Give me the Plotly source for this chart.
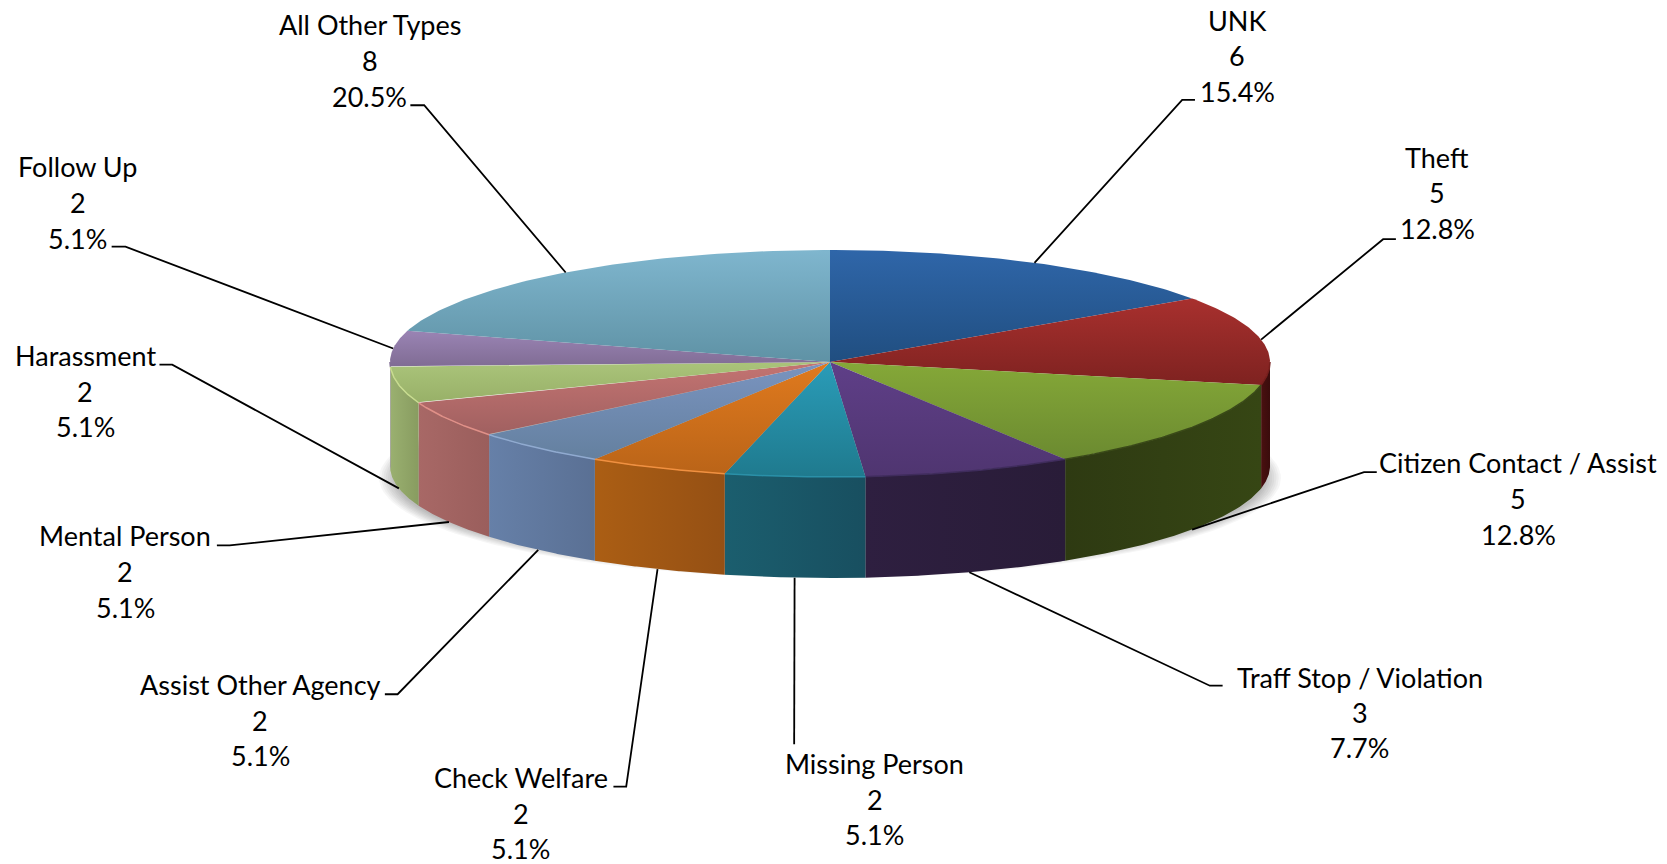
import math
import plotly.graph_objects as go

# ---- data ----
categories = ["UNK", "Theft", "Citizen Contact / Assist", "Traff Stop / Violation",
              "Missing Person", "Check Welfare", "Assist Other Agency", "Mental Person",
              "Harassment", "Follow Up", "All Other Types"]
counts = [6, 5, 5, 3, 2, 2, 2, 2, 2, 2, 8]
percent_labels = ["15.4%", "12.8%", "12.8%", "7.7%", "5.1%", "5.1%", "5.1%", "5.1%", "5.1%", "5.1%", "20.5%"]

# ---- styles ----
top_light = ["#2F66A9", "#A8302E", "#85A838", "#5F3F88", "#2A9CB8", "#E07A1E",
             "#7A94C0", "#C47472", "#AAC47A", "#9A84B4", "#7FB6CE"]
top_dark = ["#204E80", "#7E2220", "#6B8A30", "#4F3570", "#1F7A8E", "#BA6418",
            "#64809F", "#A06060", "#98B068", "#806C94", "#5F92A5"]
side_left = ["#1B3A60", "#4A1010", "#2E3A12", "#2E1F40", "#1B5E6E", "#AB5E14",
             "#6680A8", "#A86866", "#9AB070", "#806C94", "#5F92A5"]
side_right = ["#1B3A60", "#3A0C0C", "#364614", "#291C38", "#184F60", "#955014",
              "#5A7094", "#9A5E5C", "#889C60", "#806C94", "#5F92A5"]
rim = ["#204E80", "#751E1C", "#3A4A18", "#3F2C5C", "#2A90A8", "#F09040",
       "#90AAD0", "#E09088", "#C8DC90", "#806C94", "#5F92A5"]

# ---- layout (pixel space of the page) ----
W, H = 1667, 864
CX, CY = 830, 362
RX, RY_BACK, RY_FRONT = 440, 112, 115
BOTTOM_CY, BOTTOM_RY = 466, 112
S = 1667 / 1568
# centre x, y of the three text lines and the elbow ends of the leaders (in 1568-wide units)
label_x = [1164, 1352, 1428, 1279, 823, 490, 245, 118, 80, 73, 348]
label_y = [(19, 52, 86), (148, 181, 215), (435, 469, 503), (637, 670, 703), (718, 752, 785),
           (731, 765, 798), (644, 678, 711), (504, 538, 571), (334, 368, 401), (157, 190, 224),
           (23, 57, 91)]
leader_start = [(1124, 94), (1313, 225), (1295, 444), (1150, 645), (747, 700), (577, 740),
                (362, 653), (204, 513), (150, 343), (105, 232), (386, 99)]
leader_elbow = [(1112, 94), (1301, 225), (1283, 444), (1138, 645), None, (589, 740),
                (374, 653), (216, 513), (162, 343), (118, 232), (399, 99)]
FONT = dict(family="Lato, Carlito, sans-serif", size=27, color="#000000")


def top_pt(t):
    c = math.cos(t)
    return CX + RX * math.sin(t), CY - c * (RY_BACK if c > 0 else RY_FRONT)


def bot_pt(t):
    return CX + RX * math.sin(t), BOTTOM_CY - math.cos(t) * BOTTOM_RY


def arc(a, b, fn, n=80):
    pts = [fn(a + (b - a) * i / n) for i in range(n + 1)]
    return [p[0] for p in pts], [p[1] for p in pts]


fig = go.Figure()

# soft shadow below the pie
for k in range(8):
    th = [2 * math.pi * i / 180 for i in range(181)]
    fig.add_trace(go.Scatter(
        x=[CX + (451 - k * 2.2) * math.sin(t) for t in th],
        y=[478 + (100 - k * 1.2) * math.cos(t) for t in th],
        mode="lines", line=dict(width=0), fill="toself",
        fillcolor="rgba(0,0,0,0.035)", hoverinfo="skip", showlegend=False))

total = sum(counts)
angles = [0.0]
for v in counts:
    angles.append(angles[-1] + v / total * 2 * math.pi)
HALF, THREE_HALF = math.pi / 2, 3 * math.pi / 2

# side walls
for i in range(len(counts)):
    a, b = max(angles[i], HALF), min(angles[i + 1], THREE_HALF)
    if b <= a:
        continue
    x1, y1 = arc(a, b, top_pt)
    x2, y2 = arc(a, b, bot_pt)
    xs = x1 + x2[::-1] + [x1[0]]
    ys = y1 + y2[::-1] + [y1[0]]
    fig.add_trace(go.Scatter(
        x=xs, y=ys, mode="lines", line=dict(width=0), fill="toself",
        fillgradient=dict(type="horizontal", start=min(xs), stop=max(xs),
                          colorscale=[[0, side_left[i]], [1, side_right[i]]]),
        hoverinfo="skip", showlegend=False))

# top faces
for i in range(len(counts)):
    xa, ya = arc(angles[i], angles[i + 1], top_pt)
    xs = [CX] + xa + [CX]
    ys = [CY] + ya + [CY]
    fig.add_trace(go.Scatter(
        x=xs, y=ys, mode="lines", line=dict(width=0), fill="toself",
        fillgradient=dict(type="vertical", start=min(ys), stop=max(ys),
                          colorscale=[[0, top_light[i]], [1, top_dark[i]]]),
        hoverinfo="skip", showlegend=False))

# rim highlight along the front edge
for i in range(len(counts)):
    a, b = max(angles[i], HALF), min(angles[i + 1], THREE_HALF)
    if b <= a:
        continue
    xr, yr = arc(a, b, top_pt)
    fig.add_trace(go.Scatter(x=xr, y=yr, mode="lines", line=dict(color=rim[i], width=1.5),
                             hoverinfo="skip", showlegend=False))

# leaders: the inner end follows the slice's middle angle
for i in range(len(counts)):
    mid = (angles[i] + angles[i + 1]) / 2
    ex, ey = bot_pt(mid) if HALF < mid < THREE_HALF else top_pt(mid)
    pts = [leader_start[i]]
    if leader_elbow[i]:
        pts.append(leader_elbow[i])
    xs = [p[0] * S for p in pts] + [ex]
    ys = [p[1] * S for p in pts] + [ey]
    fig.add_trace(go.Scatter(x=xs, y=ys, mode="lines", line=dict(color="#000000", width=1.8),
                             hoverinfo="skip", showlegend=False))

# labels
annotations = []
for i, name in enumerate(categories):
    for text, yy in zip((name, str(counts[i]), percent_labels[i]), label_y[i]):
        annotations.append(dict(x=label_x[i] * S, y=yy * S, text=text, showarrow=False,
                                xref="x", yref="y", xanchor="center", yanchor="middle",
                                font=FONT))

fig.update_layout(
    width=W, height=H, autosize=False,
    margin=dict(l=0, r=0, t=0, b=0, pad=0),
    paper_bgcolor="#FFFFFF", plot_bgcolor="#FFFFFF",
    xaxis=dict(range=[0, W], visible=False, fixedrange=True),
    yaxis=dict(range=[H, 0], visible=False, fixedrange=True),
    annotations=annotations, showlegend=False,
)
fig.write_html("out.html", config=dict(displayModeBar=False),
               post_script="document.body.style.margin='0';document.body.style.overflow='hidden';")
